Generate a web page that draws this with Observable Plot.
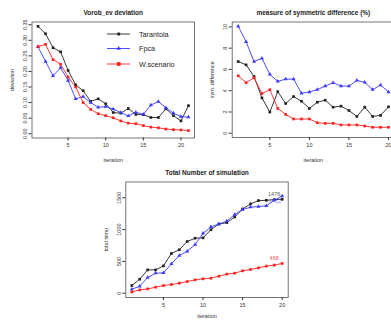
<!DOCTYPE html>
<html><head><meta charset="utf-8">
<script src="https://cdn.jsdelivr.net/npm/d3@7"></script>
<script src="https://cdn.jsdelivr.net/npm/@observablehq/plot@0.6"></script>
<style>
html,body{margin:0;padding:0;background:#fff;}
#wrap{position:relative;width:391px;height:321px;overflow:hidden;font-family:"Liberation Sans",Arial,sans-serif;}
#wrap > svg, #wrap > figure{position:absolute;margin:0;}
</style></head><body><div id="wrap"></div>
<script>
const seriesNames = ["Tarantola", "Fpca", "W.scenario"];
const seriesColors = ["#222222", "#3a3aff", "#ff2020"];
const seriesSymbols = ["square", "triangle", "square"];

const iter21 = [1,2,3,4,5,6,7,8,9,10,11,12,13,14,15,16,17,18,19,20,21];
const iter20 = [1,2,3,4,5,6,7,8,9,10,11,12,13,14,15,16,17,18,19,20];
const xTicks = [5, 10, 15, 20];

const vorobTarantola = [0.345,0.321,0.276,0.263,0.203,0.157,0.138,0.104,0.112,0.096,0.068,0.066,0.081,0.062,0.061,0.052,0.052,0.080,0.058,0.041,0.090];
const vorobFpca      = [0.279,0.232,0.186,0.212,0.171,0.112,0.119,0.100,0.085,0.087,0.079,0.068,0.057,0.069,0.062,0.092,0.103,0.083,0.066,0.055,0.053];
const vorobW         = [0.280,0.287,0.238,0.223,0.182,0.150,0.100,0.078,0.064,0.058,0.051,0.041,0.034,0.032,0.026,0.021,0.019,0.015,0.013,0.012,0.010];
const vorobTicks = [0, 0.05, 0.10, 0.15, 0.20, 0.25, 0.30, 0.35];

const symTarantola = [6.74,6.43,5.34,3.32,1.99,3.91,2.80,3.45,3.01,2.33,2.92,3.11,2.45,2.55,2.14,1.58,2.45,1.58,1.68,2.48];
const symFpca      = [10.06,8.60,6.74,7.05,5.53,4.88,5.09,5.09,3.76,3.88,4.10,4.44,4.75,4.44,4.44,4.97,4.78,4.10,4.53,3.88];
const symW         = [5.40,4.75,5.22,3.73,4.10,2.33,1.77,1.34,1.34,1.34,0.99,0.93,0.93,0.78,0.78,0.78,0.68,0.56,0.56,0.56];
const symTicks = [0, 2, 4, 6, 8, 10];

const totTarantola = [121,220,367,367,430,624,683,813,865,870,998,1088,1110,1198,1324,1403,1456,1460,1471,1476];
const totFpca      = [63,110,247,315,320,461,592,660,765,940,1044,1088,1132,1237,1316,1352,1363,1374,1462,1528];
const totW         = [20,52,68,95,121,137,158,184,210,226,236,268,300,315,352,373,399,426,442,468];
const totTicks = [0, 500, 1000, 1500];
const totLabels = ["1476", "1452", "468"];

function tidy(iters, lists) {
  const rows = [];
  lists.forEach((vals, k) => vals.forEach((v, i) => rows.push({iter: iters[i], value: v, series: seriesNames[k]})));
  return rows;
}

const font = "Liberation Sans, Arial, sans-serif";

function panel(o) {
  return Plot.plot({
    width: o.width, height: o.height,
    marginLeft: o.mL, marginRight: o.mR, marginTop: o.mT, marginBottom: o.mB,
    style: {fontFamily: font, fontSize: "5.5px", color: "#333", background: "transparent", overflow: "visible"},
    x: {domain: o.xDomain},
    y: {domain: o.yDomain},
    color: {domain: seriesNames, range: seriesColors},
    symbol: {domain: seriesNames, range: seriesSymbols},
    marks: [
      Plot.frame({stroke: "#666", strokeWidth: 0.9}),
      Plot.axisX({ticks: xTicks, tickSize: 3, tickPadding: 2.5, label: "iteration", labelAnchor: "center", labelArrow: "none", labelOffset: o.xLabelOffset ?? 24}),
      Plot.axisY({ticks: o.yTicks, tickFormat: o.yFormat, tickSize: 3, tickRotate: -90, tickPadding: 2, label: o.ylabel, labelAnchor: "center", labelArrow: "none", labelOffset: 22}),
      Plot.line(o.rows, {x: "iter", y: "value", z: "series", stroke: "series", strokeWidth: 0.9}),
      Plot.dot(o.rows, {x: "iter", y: "value", symbol: "series", fill: "series", r: 1.5}),
      Plot.text([o.title], {frameAnchor: "top", dy: -11.5, text: d => d, fontWeight: "bold", fontSize: 6.5, fill: "#222"}),
      ...(o.extra || [])
    ]
  });
}

const wrap = document.getElementById("wrap");

const p1 = panel({
  rows: tidy(iter21, [vorobTarantola, vorobFpca, vorobW]),
  width: 200, height: 165, mL: 31.5, mR: 6, mT: 21.5, mB: 27.5,
  xDomain: [0.2, 21.8], yDomain: [-0.0138, 0.3588],
  yTicks: vorobTicks, yFormat: d3.format(".2f"),
  ylabel: "deviation", title: "Vorob_ev deviation"
});
p1.style.left = "0px"; p1.style.top = "0px";
wrap.appendChild(p1);

const p2 = panel({
  rows: tidy(iter20, [symTarantola, symFpca, symW]),
  width: 200, height: 165, mL: 31.7, mR: 6, mT: 21.5, mB: 28,
  xDomain: [0.24, 20.76], yDomain: [-0.4, 10.46],
  yTicks: symTicks, yFormat: d3.format("d"),
  ylabel: "sym. difference", title: "measure of symmetric difference (%)"
});
p2.style.left = "200px"; p2.style.top = "0px";
wrap.appendChild(p2);

const lastRows = [
  {iter: iter20[19], value: totTarantola[19], label: totLabels[0], series: seriesNames[0], dy: -5},
  {iter: iter20[19], value: totFpca[19], label: totLabels[1], series: seriesNames[1], dy: 5},
  {iter: iter20[19], value: totW[19], label: totLabels[2], series: seriesNames[2], dy: -5}
];
const p3 = panel({
  rows: tidy(iter20, [totTarantola, totFpca, totW]),
  width: 200, height: 171, mL: 25.3, mR: 12.3, mT: 31.5, mB: 24,
  xDomain: [0.24, 20.76], yDomain: [-67, 1748],
  yTicks: totTicks, yFormat: d3.format("d"),
  ylabel: "total simu", title: "Total Number of simulation",
  xLabelOffset: 20,
  extra: [
    Plot.text(lastRows.filter(d => d.dy < 0), {x: "iter", y: "value", text: "label", fill: "series", dx: -8, dy: -5, fontSize: 5.5, fillOpacity: 0.8}),
    Plot.text(lastRows.filter(d => d.dy > 0), {x: "iter", y: "value", text: "label", fill: "series", dx: -7, dy: 5, fontSize: 5.5, fillOpacity: 0.6})
  ]
});
p3.style.left = "100px"; p3.style.top = "150px";
wrap.appendChild(p3);

// legend for the top-left panel
const leg = d3.create("svg").attr("width", 391).attr("height", 321)
  .style("left", "0px").style("top", "0px").style("pointer-events", "none");
const legY = [34, 48.5, 64];
seriesNames.forEach((name, i) => {
  const g = leg.append("g").attr("transform", `translate(0,${legY[i]})`);
  g.append("line").attr("x1", 107).attr("x2", 130).attr("y1", 0).attr("y2", 0)
    .attr("stroke", seriesColors[i]).attr("stroke-width", 0.9);
  const sym = d3.symbol().type(seriesSymbols[i] === "triangle" ? d3.symbolTriangle : d3.symbolSquare)
    .size(i === 2 ? 14 : 8);
  g.append("path").attr("d", sym()).attr("transform", "translate(118.7,0)").attr("fill", seriesColors[i]);
  g.append("text").attr("x", 139).attr("y", 0).attr("dy", "0.35em")
    .attr("font-family", font).attr("font-size", 7.2).attr("fill", "#222").text(name);
});
wrap.appendChild(leg.node());
</script></body></html>
